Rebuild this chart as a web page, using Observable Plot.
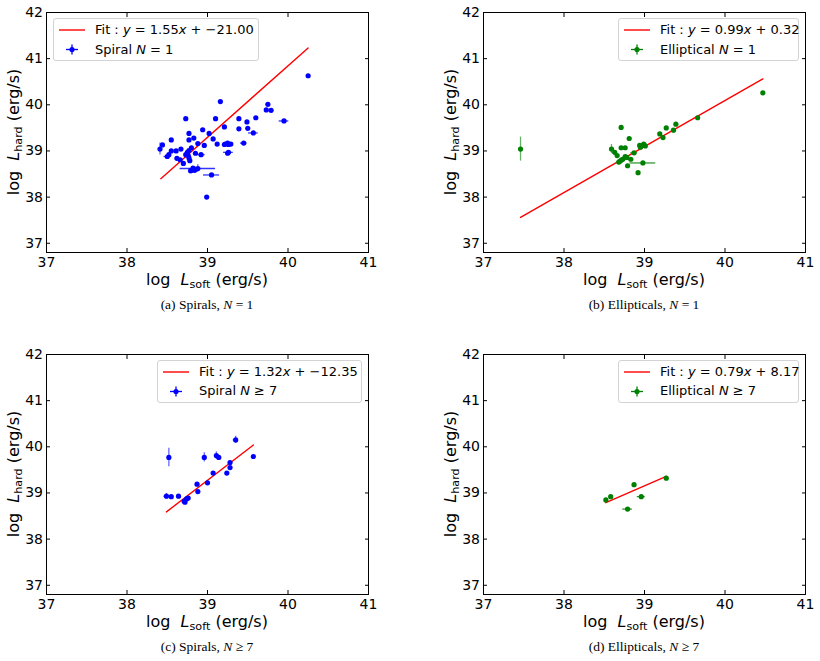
<!DOCTYPE html>
<html><head><meta charset="utf-8">
<script src="https://cdn.jsdelivr.net/npm/d3@7"></script>
<script src="https://cdn.jsdelivr.net/npm/@observablehq/plot@0.6"></script>
<style>
body{margin:0;background:#fff;}
#fig{position:relative;width:820px;height:661px;font-family:"DejaVu Sans",sans-serif;color:#000;overflow:hidden;}
.abs{position:absolute;}
.xlab{font-size:16px;line-height:16px;white-space:nowrap;transform:translateX(-50%);}
.ylab{font-size:16px;line-height:16px;white-space:nowrap;transform:translate(-50%,-50%) rotate(-90deg);}
.cap{font-family:"Liberation Serif","Times New Roman",serif;font-size:13.5px;line-height:14px;white-space:nowrap;transform:translateX(-50%);}
.legend{position:absolute;border:1px solid #d3d3d3;border-radius:3px;background:rgba(255,255,255,0.85);font-size:13px;box-sizing:border-box;}
.legend .t{position:absolute;white-space:nowrap;line-height:14px;}
sub{font-size:70%;line-height:0;vertical-align:-0.3em;}
.plot{position:absolute;overflow:visible;}
</style>
</head><body>
<div id="fig"></div>
<script>
// ---------- data ----------
const xTicks = [37, 38, 39, 40, 41];
const yTicks = [37, 38, 39, 40, 41, 42];

// (a) Spirals, N = 1
const spiral1X = [40.25,39.16,39.75,39.73,39.79,38.73,39.10,39.39,39.60,39.49,39.95,39.21,38.94,39.39,39.50,39.57,38.77,39.02,38.83,39.07,38.55,38.77,39.22,39.25,39.21,39.26,39.12,39.29,39.45,38.88,38.96,38.44,38.41,38.80,38.67,38.61,38.55,39.26,39.25,38.75,38.73,38.85,38.92,38.50,38.52,38.62,38.66,38.77,38.78,38.70,38.82,38.80,38.85,38.79,38.84,38.88,39.05,38.99,38.77,38.76];
const spiral1Y = [40.63,40.07,40.01,39.89,39.88,39.70,39.70,39.70,39.72,39.63,39.65,39.52,39.46,39.48,39.49,39.39,39.38,39.38,39.28,39.26,39.24,39.24,39.15,39.17,39.14,39.14,39.15,39.15,39.17,39.16,39.12,39.13,39.04,39.07,39.04,39.00,39.00,38.97,38.95,38.97,38.92,38.95,38.92,38.88,38.92,38.84,38.81,38.85,38.79,38.73,38.63,38.58,38.60,38.57,38.58,38.62,38.48,38.00,39.01,38.90];
const spiral1Xerr = [0,0,0,0,0,0,0,0,0,0, 0.06,0,0,0,0,0.06,0,0,0,0, 0,0,0,0,0,0,0,0,0.04,0, 0,0,0,0,0,0,0,0.06,0,0, 0,0,0.05,0.04,0,0,0,0,0,0, 0,0,0,0,0,0.22,0.10,0,0,0];
const spiral1Yerr = [0,0,0,0,0,0,0,0,0,0, 0,0,0,0,0,0,0,0,0,0, 0,0,0,0,0,0,0,0,0,0, 0,0,0.13,0,0,0,0,0,0,0, 0,0,0,0,0,0,0,0,0,0, 0,0,0,0,0,0.08,0,0,0,0];
const spiral1FitX = [38.42, 40.25];
const spiral1FitY = [38.40, 41.23];

// (b) Ellipticals, N = 1
const ellip1X = [37.46,40.47,39.66,39.39,39.27,39.36,39.19,39.23,38.71,38.81,38.94,38.99,39.01,38.95,38.87,38.71,38.76,38.59,38.63,38.66,38.69,38.76,38.73,38.78,38.71,38.83,38.79,38.98,38.92,38.68];
const ellip1Y = [39.04,40.26,39.72,39.58,39.50,39.45,39.37,39.29,39.51,39.27,39.12,39.15,39.11,39.08,38.96,39.07,39.07,39.04,38.97,38.90,38.77,38.88,38.82,38.86,38.80,38.82,38.68,38.74,38.53,38.76];
const ellip1Xerr = [0,0,0,0,0,0,0,0,0,0, 0,0,0,0,0.04,0,0,0,0,0, 0,0,0,0,0,0,0,0.16,0,0];
const ellip1Yerr = [0.26,0,0,0,0,0,0,0,0,0, 0,0,0,0,0,0,0,0.10,0,0, 0,0,0,0,0,0,0,0,0,0];
const ellip1FitX = [37.46, 40.47];
const ellip1FitY = [37.56, 40.56];

// (c) Spirals, N >= 7
const spiral7X = [38.52,38.96,39.11,39.14,39.35,39.57,39.28,39.28,39.24,39.07,39.00,38.87,38.88,38.49,38.55,38.64,38.76,38.74,38.71,38.72];
const spiral7Y = [39.77,39.77,39.81,39.77,40.15,39.79,39.66,39.55,39.43,39.43,39.22,39.19,39.03,38.93,38.92,38.93,38.89,38.87,38.82,38.80];
const spiral7Xerr = [0,0,0,0,0.03,0,0,0,0,0, 0,0,0,0.03,0,0,0,0,0,0];
const spiral7Yerr = [0.20,0.10,0.08,0,0.08,0,0,0,0,0, 0,0,0,0.06,0,0,0,0,0,0];
const spiral7FitX = [38.49, 39.57];
const spiral7FitY = [38.59, 40.04];

// (d) Ellipticals, N >= 7
const ellip7X = [38.52,38.58,38.87,38.96,38.79,39.27];
const ellip7Y = [38.85,38.92,39.18,38.92,38.65,39.32];
const ellip7Xerr = [0,0,0,0.05,0.06,0];
const ellip7Yerr = [0,0,0,0,0,0];
const ellip7FitX = [38.52, 39.27];
const ellip7FitY = [38.79, 39.36];

// ---------- drawing ----------
const fig = document.getElementById("fig");
const intFmt = d => String(d);

function panel(X, Y, XE, YE, FX, FY, color) {
  const pts = X.map((x, i) => ({x, y: Y[i], xe: XE[i], ye: YE[i]}));
  const fit = FX.map((x, i) => ({x, y: FY[i]}));
  return Plot.plot({
    width: 410, height: 275,
    marginTop: 12, marginRight: 42, marginBottom: 23, marginLeft: 46,
    x: {domain: [37, 41]},
    y: {domain: [36.8, 42]},
    style: {fontFamily: "DejaVu Sans", fontSize: "14px", color: "black", background: "transparent", overflow: "visible"},
    marks: [
      Plot.ruleY(pts.filter(d => d.xe > 0), {y: "y", x1: d => d.x - d.xe, x2: d => d.x + d.xe, stroke: color, strokeWidth: 1.3, strokeOpacity: 0.8}),
      Plot.ruleX(pts.filter(d => d.ye > 0), {x: "x", y1: d => d.y - d.ye, y2: d => d.y + d.ye, stroke: color, strokeWidth: 1.3, strokeOpacity: 0.6}),
      Plot.line(fit, {x: "x", y: "y", stroke: "red", strokeWidth: 1.4}),
      Plot.dot(pts, {x: "x", y: "y", r: 2.6, fill: color}),
      Plot.frame({stroke: "black", strokeWidth: 1}),
      Plot.axisX({ticks: xTicks, anchor: "bottom", tickSize: -4, tickPadding: 9, tickFormat: intFmt, label: null}),
      Plot.axisX({ticks: xTicks, anchor: "top", tickSize: -4, tickFormat: () => "", label: null}),
      Plot.axisY({ticks: yTicks, anchor: "left", tickSize: -4, tickPadding: 7.5, tickFormat: intFmt, label: null}),
      Plot.axisY({ticks: yTicks, anchor: "right", tickSize: -4, tickFormat: () => "", label: null})
    ]
  });
}

function addEl(html, cls, style) {
  const d = document.createElement("div");
  d.className = cls;
  d.innerHTML = html;
  Object.assign(d.style, style);
  fig.appendChild(d);
  return d;
}

function legend(left, top, width, color, fitText, label) {
  const lg = document.createElement("div");
  lg.className = "legend";
  Object.assign(lg.style, {left: left + "px", top: top + "px", width: width + "px", height: "43px"});
  lg.innerHTML =
    `<svg width="40" height="43" style="position:absolute;left:0;top:0">
       <line x1="5" x2="31" y1="11" y2="11" stroke="red" stroke-width="1.4"/>
       <line x1="12" x2="24" y1="30.5" y2="30.5" stroke="${color}" stroke-width="1.3"/>
       <line x1="18" x2="18" y1="25.5" y2="35.5" stroke="${color}" stroke-width="1.3"/>
       <circle cx="18" cy="30.5" r="2.6" fill="${color}"/>
     </svg>
     <div class="t" style="left:41px;top:4px">${fitText}</div>
     <div class="t" style="left:41px;top:23.5px">${label}</div>`;
  fig.appendChild(lg);
}

const panels = [
  {X: spiral1X, Y: spiral1Y, XE: spiral1Xerr, YE: spiral1Yerr, FX: spiral1FitX, FY: spiral1FitY, color: "#0000ff", left: 0, top: 0,
   fit: "Fit : <i>y</i> = 1.55<i>x</i> + −21.00", lab: "Spiral <i>N</i> = 1", lgLeft: 53, lgW: 206,
   cap: "(a) Spirals, <i>N</i> = 1"},
  {X: ellip1X, Y: ellip1Y, XE: ellip1Xerr, YE: ellip1Yerr, FX: ellip1FitX, FY: ellip1FitY, color: "#008000", left: 437, top: 0,
   fit: "Fit : <i>y</i> = 0.99<i>x</i> + 0.32", lab: "Elliptical <i>N</i> = 1", lgLeft: 618, lgW: 181,
   cap: "(b) Ellipticals, <i>N</i> = 1"},
  {X: spiral7X, Y: spiral7Y, XE: spiral7Xerr, YE: spiral7Yerr, FX: spiral7FitX, FY: spiral7FitY, color: "#0000ff", left: 0, top: 341.5,
   fit: "Fit : <i>y</i> = 1.32<i>x</i> + −12.35", lab: "Spiral <i>N</i> ≥ 7", lgLeft: 157, lgW: 205,
   cap: "(c) Spirals, <i>N</i> ≥ 7"},
  {X: ellip7X, Y: ellip7Y, XE: ellip7Xerr, YE: ellip7Yerr, FX: ellip7FitX, FY: ellip7FitY, color: "#008000", left: 437, top: 341.5,
   fit: "Fit : <i>y</i> = 0.79<i>x</i> + 8.17", lab: "Elliptical <i>N</i> ≥ 7", lgLeft: 618, lgW: 181,
   cap: "(d) Ellipticals, <i>N</i> ≥ 7"}
];

for (const p of panels) {
  const svg = panel(p.X, p.Y, p.XE, p.YE, p.FX, p.FY, p.color);
  svg.classList.add("plot");
  svg.style.left = p.left + "px";
  svg.style.top = p.top + "px";
  fig.appendChild(svg);
  const cx = p.left + 46 + 161;
  addEl("log&nbsp;&nbsp;<i>L</i><sub>soft</sub> (erg/s)", "abs xlab", {left: cx + "px", top: (p.top + 272) + "px"});
  addEl("log&nbsp;&nbsp;<i>L</i><sub>hard</sub> (erg/s)", "abs ylab", {left: (p.left + 14) + "px", top: (p.top + 132) + "px"});
  addEl(p.cap, "abs cap", {left: cx + "px", top: (p.top + 298) + "px"});
  legend(p.lgLeft, p.top + 18, p.lgW, p.color, p.fit, p.lab);
}
</script>
</body></html>
